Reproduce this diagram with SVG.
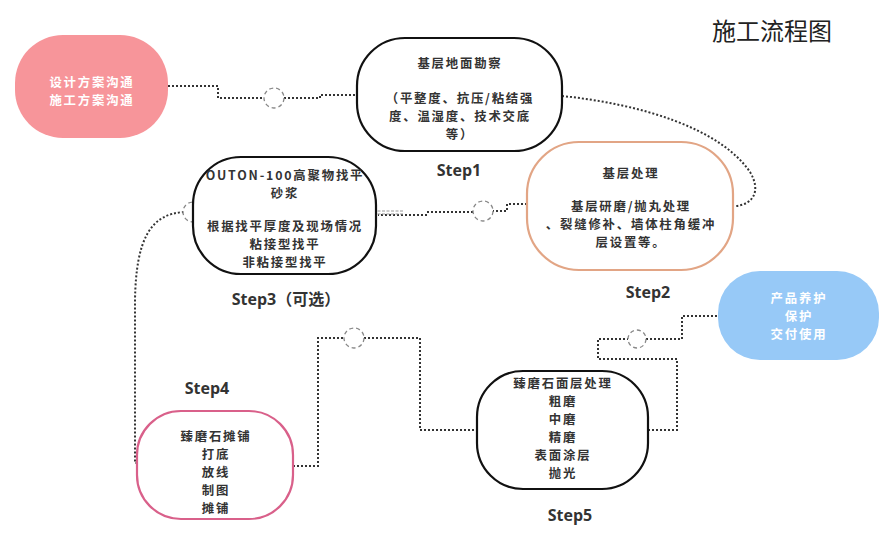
<svg xmlns="http://www.w3.org/2000/svg" width="891" height="535" viewBox="0 0 891 535">
<style>
.t{font-family:"Noto Sans CJK SC","Noto Sans",sans-serif;font-weight:bold;font-size:12.4px;letter-spacing:1.8px;fill:#333;text-anchor:middle}
.w{fill:#fff}
.s{font-family:"Open Sans","Noto Sans CJK SC",sans-serif;font-weight:bold;font-size:16px;fill:#333;text-anchor:middle}
.dot{fill:none;stroke:#333;stroke-width:2;stroke-dasharray:2 2}
.ring{fill:#fff;stroke:#888;stroke-width:1.3;stroke-dasharray:4 3}
.box{fill:#fff;stroke-width:2.2}
</style>
<rect width="891" height="535" fill="#fff"/>
<text x="772" y="40" font-family="Noto Sans CJK SC, sans-serif" font-size="24" fill="#222" text-anchor="middle">施工流程图</text>
<g id="connectors">
<path class="dot" d="M168,86 H218 V98 H264"/>
<path class="dot" d="M284,98 H320 V95 H357"/>
<path class="dot" d="M562,96 C640,104 720,128 750,172 C762,192 752,205 735,206"/>
<path class="dot" d="M527,204 H507 V211 H493"/>
<path class="dot" d="M473,212 H425"/>
<path class="dot" d="M427,215 H378"/>
<path d="M403,211 H200 M403,214 H200" fill="none" stroke="#999" stroke-width="1" stroke-dasharray="3 1.5"/>
<path class="dot" d="M184,212 C150,214 136,240 135,300 L135,463 H140"/>
<path class="dot" d="M293,466 H318 V338 H344"/>
<path class="dot" d="M364,338 H420 V430 H478"/>
<path class="dot" d="M648,430 H677 V359 H598 V339 H628"/>
<path class="dot" d="M646,339 H682 V316 H718"/>
<circle class="ring" cx="274" cy="98" r="10"/>
<circle class="ring" cx="483" cy="211" r="10"/>
<circle class="ring" cx="193" cy="212" r="10"/>
<circle class="ring" cx="354" cy="338" r="10"/>
<circle class="ring" cx="637" cy="339" r="9"/>
</g>
<g id="node-design">
<rect x="15" y="35" width="153" height="103" rx="48" fill="#F7959A"/>
<text class="t w" x="92" y="87">设计方案沟通<tspan x="92" dy="18">施工方案沟通</tspan></text>
</g>
<g id="node-step1">
<rect class="box" x="357" y="38" width="205" height="113" rx="48" stroke="#111"/>
<text class="t" x="460" y="68">基层地面勘察</text>
<text class="t" x="460" y="103">（平整度、抗压/粘结强<tspan x="460" dy="18">度、温湿度、技术交底</tspan><tspan x="460" dy="18">等）</tspan></text>
<text class="s" x="459" y="176">Step1</text>
</g>
<g id="node-step2">
<rect class="box" x="527" y="142" width="206" height="128" rx="52" stroke="#E2A585"/>
<text class="t" x="631" y="178">基层处理</text>
<text class="t" x="631" y="211">基层研磨/抛丸处理<tspan x="631" dy="18">、裂缝修补、墙体柱角缓冲</tspan><tspan x="631" dy="18">层设置等。</tspan></text>
<text class="s" x="648" y="298">Step2</text>
</g>
<g id="node-step3">
<rect class="box" x="193" y="157" width="183" height="117" rx="48" stroke="#111"/>
<text class="t" x="285" y="180">OUTON-100高聚物找平<tspan x="285" dy="18">砂浆</tspan></text>
<text class="t" x="285" y="231">根据找平厚度及现场情况<tspan x="285" dy="18">粘接型找平</tspan><tspan x="285" dy="18">非粘接型找平</tspan></text>
<text class="s" x="286" y="305" font-size="11.5">Step3（可选）</text>
</g>
<g id="node-step4">
<rect class="box" x="137" y="411" width="156" height="108" rx="44" stroke="#D9608A"/>
<text class="t" x="216" y="441">臻磨石摊铺<tspan x="216" dy="18">打底</tspan><tspan x="216" dy="18">放线</tspan><tspan x="216" dy="18">制图</tspan><tspan x="216" dy="18">摊铺</tspan></text>
<text class="s" x="207" y="394">Step4</text>
</g>
<g id="node-step5">
<rect class="box" x="477" y="371" width="171" height="118" rx="46" stroke="#111"/>
<text class="t" x="563" y="388">臻磨石面层处理<tspan x="563" dy="18">粗磨</tspan><tspan x="563" dy="18">中磨</tspan><tspan x="563" dy="18">精磨</tspan><tspan x="563" dy="18">表面涂层</tspan><tspan x="563" dy="18">抛光</tspan></text>
<text class="s" x="570" y="521">Step5</text>
</g>
<g id="node-product">
<rect x="718" y="271" width="161" height="89" rx="42" fill="#97C9F7"/>
<text class="t w" x="799" y="303">产品养护<tspan x="799" dy="18">保护</tspan><tspan x="799" dy="18">交付使用</tspan></text>
</g>
</svg>
